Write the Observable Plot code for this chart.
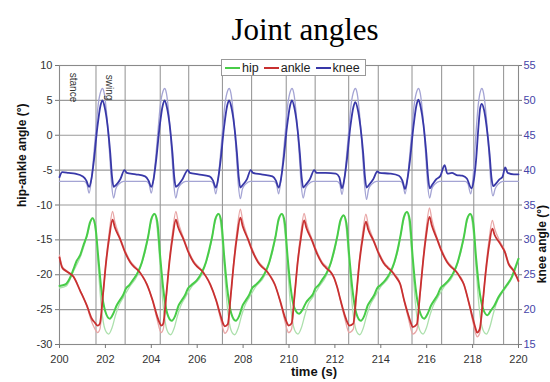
<!DOCTYPE html>
<html>
<head>
<meta charset="utf-8">
<script src="https://cdn.jsdelivr.net/npm/d3@7"></script>
<script src="https://cdn.jsdelivr.net/npm/@observablehq/plot@0.6"></script>
<style>
  html, body { margin: 0; padding: 0; background: #fff; }
  #wrap { position: relative; width: 550px; height: 382px; overflow: hidden; }
  #title { box-sizing: border-box; height: 50px; padding-top: 15px; padding-left: 60px; text-align: center;
           font-family: "Liberation Serif", "Times New Roman", serif; font-size: 31px; line-height: 30px; color: #000; }
  #legend { position: absolute; left: 221px; top: 59px; width: 145px; height: 17px; box-sizing: border-box;
            background: #fff; border: 1px solid #999; font-family: "Liberation Sans", Arial, sans-serif;
            font-size: 12.5px; color: #222; display: flex; align-items: center; padding-left: 3px; }
  #legend .sw { display: inline-block; width: 15px; height: 2px; margin-right: 2px; }
  #legend .it { display: flex; align-items: center; margin-right: 5px; }
</style>
</head>
<body>
<div id="wrap">
  <div id="title">Joint angles</div>
  <div id="chart"></div>
  <div id="legend"></div>
</div>
<script>
// ---- data (time s, angle deg) ----
const xTicks = [200, 202, 204, 206, 208, 210, 212, 214, 216, 218, 220];
const yTicks = [-30, -25, -20, -15, -10, -5, 0, 5, 10];
const kneeOffset = 45; // knee axis = hip-ankle axis + 45
// gait events (toe-off / heel-strike) drawn as vertical grid lines
const events = [201.59, 202.86, 204.39, 205.63, 207.10, 208.37, 209.88, 211.14, 212.60, 213.89, 215.36, 216.65, 218.05, 219.35];
const phaseLabels = [{t: 200.77, label: "stance"}, {t: 202.34, label: "swing"}];
const seriesNames = ["hip", "ankle", "knee"];
const seriesColors = ["#48cc48", "#c83030", "#3838a8"];
const seriesLight = ["#ace0ac", "#e8a6a6", "#a4a4d4"];

const kneeMeasured = [[200.00,39.0],[200.12,39.7],[200.40,39.6],[200.68,39.5],[201.02,39.1],[201.17,38.5],
[201.29,37.6],[201.39,38.7],[201.50,41.4],[201.65,46.15],[201.79,49.3],[201.87,50.0],[201.97,49.0],[202.09,46.5],[202.21,42.5],[202.29,39.0],[202.36,37.6],[202.47,37.9],[202.65,38.7],[202.83,40.0],[202.93,39.6],[203.32,39.4],
[203.73,39.1],[203.88,38.5],[204.00,37.6],[204.10,38.7],[204.21,41.4],[204.36,46.15],[204.50,49.3],[204.58,50.0],[204.68,49.0],[204.80,46.5],[204.92,42.5],[205.00,39.0],[205.07,37.6],[205.18,37.9],[205.36,38.7],[205.59,40.0],[205.68,39.6],[206.05,39.4],
[206.54,39.1],[206.69,38.5],[206.81,37.5],[206.91,38.7],[207.02,41.4],[207.17,46.15],[207.31,49.3],[207.39,50.0],[207.49,49.0],[207.61,46.5],[207.73,42.5],[207.81,39.0],[207.88,37.5],[207.99,37.9],[208.17,38.7],[208.33,40.0],[208.43,39.6],[208.80,39.4],
[209.28,39.1],[209.43,38.5],[209.55,37.5],[209.65,38.7],[209.76,41.4],[209.91,46.15],[210.05,49.3],[210.13,50.0],[210.23,49.0],[210.35,46.5],[210.47,42.5],[210.55,39.0],[210.62,37.5],[210.73,37.9],[210.91,38.7],[211.10,40.0],[211.20,39.6],[211.60,39.6],
[212.04,39.5],[212.19,39.0],[212.31,37.4],[212.41,38.7],[212.52,41.4],[212.67,46.15],[212.81,49.1],[212.89,49.75],[212.99,48.8],[213.11,46.3],[213.23,42.5],[213.31,39.0],[213.38,37.5],[213.49,37.9],[213.67,38.7],[213.85,39.8],[213.95,39.6],[214.40,39.5],
[214.79,39.2],[214.94,38.5],[215.06,37.3],[215.16,38.7],[215.27,41.4],[215.42,46.15],[215.56,49.4],[215.64,50.1],[215.74,49.0],[215.86,46.5],[215.98,42.5],[216.06,39.0],[216.13,37.4],[216.24,37.9],[216.42,38.7],[216.60,39.2],[216.78,40.7],[216.90,39.5],[217.10,39.6],[217.30,39.3],[217.55,39.2],[217.75,38.8],
[217.95,37.4],[218.06,38.7],[218.15,41.4],[218.25,46.0],[218.33,48.9],[218.40,49.5],[218.50,48.6],[218.62,46.0],[218.74,42.3],[218.82,39.0],[218.90,37.7],[219.00,38.0],[219.18,38.7],[219.30,39.0],[219.42,40.4],[219.53,39.6],[219.80,39.4],[220.00,39.4]];

const kneeModel = [[200.00,38.4],
[201.07,38.4],[201.19,38.0],[201.29,36.7],[201.40,39.0],[201.54,44.0],[201.69,49.5],[201.80,51.3],[201.87,51.7],[201.95,51.0],[202.07,47.5],[202.19,42.0],[202.27,38.0],[202.36,36.0],[202.45,37.3],[202.59,38.0],[202.79,38.4],
[203.78,38.4],[203.90,38.0],[204.00,36.7],[204.11,39.0],[204.25,44.0],[204.40,49.5],[204.51,51.3],[204.58,51.7],[204.66,51.0],[204.78,47.5],[204.90,42.0],[204.98,38.0],[205.07,36.0],[205.16,37.3],[205.30,38.0],[205.50,38.4],
[206.59,38.4],[206.71,38.0],[206.81,36.6],[206.92,39.0],[207.06,44.0],[207.21,49.5],[207.32,51.3],[207.39,51.7],[207.47,51.0],[207.59,47.5],[207.71,42.0],[207.79,38.0],[207.88,35.9],[207.97,37.3],[208.11,38.0],[208.31,38.4],
[209.33,38.4],[209.45,38.0],[209.55,36.6],[209.66,39.0],[209.80,44.0],[209.95,49.5],[210.06,51.3],[210.13,51.7],[210.21,51.0],[210.33,47.5],[210.45,42.0],[210.53,38.0],[210.62,36.0],[210.71,37.3],[210.85,38.0],[211.05,38.4],
[212.09,38.4],[212.21,38.0],[212.31,36.5],[212.42,39.0],[212.56,44.0],[212.71,49.5],[212.82,51.3],[212.89,51.7],[212.97,51.0],[213.09,47.5],[213.21,42.0],[213.29,38.0],[213.38,35.8],[213.47,37.3],[213.61,38.0],[213.81,38.4],
[214.84,38.4],[214.96,38.0],[215.06,36.6],[215.17,39.0],[215.31,44.0],[215.46,49.5],[215.57,51.3],[215.64,51.7],[215.72,51.0],[215.84,47.5],[215.96,42.0],[216.04,38.0],[216.13,36.0],[216.22,37.3],[216.36,38.0],[216.56,38.4],
[217.68,38.4],[217.80,38.0],[217.92,36.6],[218.02,39.0],[218.12,44.0],[218.25,49.5],[218.34,51.3],[218.40,51.7],[218.48,51.0],[218.60,47.5],[218.72,42.0],[218.80,38.0],[218.89,36.3],[218.98,37.3],[219.12,38.0],[219.32,38.4],[220.00,38.4]];

const hipMeasured = [[200.00,-21.6],[200.25,-21.4],[200.45,-20.5],[200.61,-19.2],[200.75,-18.0],[200.90,-17.2],[201.04,-15.8],[201.19,-14.4],[201.33,-12.5],[201.44,-11.9],
[201.56,-13.0],[201.69,-17.5],[201.82,-22.0],[201.99,-25.2],[202.19,-26.3],[202.34,-25.6],[202.49,-24.4],[202.64,-23.6],[202.79,-22.8],[202.89,-22.0],[203.04,-21.5],[203.19,-20.8],[203.39,-19.8],[203.59,-18.2],[203.74,-16.3],[203.87,-14.4],[204.00,-12.0],[204.14,-11.3],
[204.26,-12.4],[204.39,-17.5],[204.52,-22.0],[204.69,-25.5],[204.89,-26.6],[205.04,-25.9],[205.19,-24.4],[205.34,-23.6],[205.49,-22.8],[205.59,-22.0],[205.74,-21.5],[205.98,-20.8],[206.18,-19.8],[206.38,-18.2],[206.53,-16.3],[206.66,-14.4],[206.79,-12.0],[206.93,-11.3],
[207.05,-12.4],[207.18,-17.5],[207.31,-22.0],[207.48,-25.5],[207.68,-26.6],[207.83,-25.9],[207.98,-24.4],[208.13,-23.6],[208.28,-22.8],[208.38,-22.0],[208.53,-21.5],[208.74,-20.8],[208.94,-19.8],[209.14,-18.2],[209.29,-16.3],[209.42,-14.4],[209.55,-12.0],[209.69,-11.3],
[209.81,-12.4],[209.94,-17.5],[210.07,-21.8],[210.24,-24.8],[210.44,-25.6],[210.59,-25.0],[210.74,-24.0],[210.89,-23.4],[211.04,-22.8],[211.14,-22.0],[211.29,-21.5],[211.43,-20.8],[211.63,-19.8],[211.83,-18.2],[211.98,-16.3],[212.11,-14.4],[212.24,-12.2],[212.38,-11.5],
[212.50,-12.6],[212.63,-17.5],[212.76,-22.0],[212.93,-25.5],[213.13,-26.6],[213.28,-25.9],[213.43,-24.4],[213.58,-23.6],[213.73,-22.8],[213.83,-22.0],[213.98,-21.5],[214.19,-20.8],[214.39,-19.8],[214.59,-18.2],[214.74,-16.3],[214.87,-14.2],[215.00,-11.8],[215.14,-11.0],
[215.26,-12.1],[215.39,-17.5],[215.52,-22.0],[215.69,-25.2],[215.89,-26.3],[216.04,-25.6],[216.19,-24.4],[216.34,-23.6],[216.49,-22.8],[216.59,-22.0],[216.74,-21.5],[216.95,-20.8],[217.15,-19.8],[217.35,-18.2],[217.50,-16.3],[217.63,-14.4],[217.76,-12.0],[217.90,-11.3],
[218.02,-12.4],[218.15,-17.5],[218.28,-21.8],[218.45,-24.8],[218.65,-25.8],[218.80,-25.1],[218.95,-24.4],[219.13,-23.2],[219.42,-21.8],[219.71,-20.3],[219.88,-18.8],[220.00,-17.7]];

const hipModel = [[200.00,-21.9],[200.30,-21.6],[200.61,-19.5],[200.90,-17.5],[201.19,-14.6],[201.44,-11.8],
[201.56,-13.5],[201.69,-19.0],[201.82,-24.5],[201.99,-27.9],[202.14,-28.5],[202.29,-27.6],[202.44,-25.8],[202.59,-24.4],[202.79,-23.2],[203.04,-21.8],[203.39,-20.1],[203.74,-16.6],[204.00,-12.3],[204.14,-11.2],
[204.26,-13.5],[204.39,-19.0],[204.52,-24.5],[204.69,-28.0],[204.84,-28.6],[204.99,-27.7],[205.14,-25.9],[205.29,-24.4],[205.49,-23.2],[205.74,-21.8],[206.18,-20.1],[206.53,-16.6],[206.79,-12.3],[206.93,-11.2],
[207.05,-13.5],[207.18,-19.0],[207.31,-24.5],[207.48,-28.0],[207.63,-28.6],[207.78,-27.7],[207.93,-25.9],[208.08,-24.4],[208.28,-23.2],[208.53,-21.8],[208.94,-20.1],[209.29,-16.6],[209.55,-12.3],[209.69,-11.2],
[209.81,-13.5],[209.94,-19.0],[210.07,-24.5],[210.24,-27.9],[210.39,-28.5],[210.54,-27.6],[210.69,-25.8],[210.84,-24.2],[211.04,-23.2],[211.29,-21.8],[211.63,-20.1],[211.98,-16.6],[212.24,-12.5],[212.38,-11.4],
[212.50,-13.5],[212.63,-19.0],[212.76,-24.5],[212.93,-28.0],[213.08,-28.6],[213.23,-27.7],[213.38,-25.9],[213.53,-24.4],[213.73,-23.2],[213.98,-21.8],[214.39,-20.1],[214.74,-16.6],[215.00,-12.1],[215.14,-10.9],
[215.26,-13.3],[215.39,-19.0],[215.52,-24.5],[215.69,-27.9],[215.84,-28.5],[215.99,-27.6],[216.14,-25.8],[216.29,-24.4],[216.49,-23.2],[216.74,-21.8],[217.15,-20.1],[217.50,-16.6],[217.76,-12.3],[217.90,-11.2],
[218.02,-13.5],[218.15,-19.0],[218.28,-24.5],[218.45,-27.9],[218.60,-28.5],[218.75,-27.5],[218.90,-25.6],[219.05,-24.0],[219.25,-22.8],[219.42,-22.0],[219.71,-20.5],[220.00,-17.9]];

const ankleMeasured = [[200.00,-17.5],[200.12,-19.0],[200.30,-19.5],[200.61,-20.3],[200.90,-22.3],[201.19,-24.4],[201.41,-26.3],[201.55,-26.9],[201.66,-27.3],
[201.76,-27.0],[201.89,-23.0],[202.03,-18.2],[202.17,-14.6],[202.31,-12.1],[202.41,-13.2],[202.64,-14.9],[202.86,-16.8],[203.08,-18.2],[203.26,-18.9],[203.46,-19.5],[203.61,-20.2],[203.81,-21.4],[204.06,-23.7],[204.26,-26.0],[204.36,-26.9],[204.43,-27.3],
[204.52,-27.0],[204.65,-23.0],[204.79,-18.2],[204.93,-14.6],[205.07,-12.1],[205.17,-13.2],[205.40,-14.9],[205.62,-16.8],[205.84,-18.2],[206.02,-18.9],[206.22,-19.5],[206.37,-20.2],[206.57,-21.4],[206.83,-23.7],[207.03,-26.0],[207.13,-27.0],[207.20,-27.4],
[207.33,-27.1],[207.46,-23.0],[207.60,-18.2],[207.74,-14.4],[207.88,-11.8],[207.98,-13.0],[208.21,-14.9],[208.43,-16.8],[208.65,-18.2],[208.83,-18.9],[209.03,-19.5],[209.18,-20.2],[209.38,-21.4],[209.61,-23.7],[209.81,-26.0],[209.91,-26.9],[209.98,-27.3],
[210.11,-27.0],[210.24,-23.0],[210.38,-18.2],[210.52,-14.7],[210.66,-12.2],[210.76,-13.3],[210.99,-15.0],[211.21,-16.9],[211.43,-18.3],[211.61,-19.0],[211.81,-19.6],[211.96,-20.4],[212.10,-21.8],[212.25,-23.7],[212.45,-26.0],[212.55,-26.9],[212.62,-27.3],
[212.80,-27.0],[212.93,-23.0],[213.07,-18.2],[213.21,-14.8],[213.35,-12.4],[213.45,-13.5],[213.68,-15.1],[213.90,-16.9],[214.12,-18.3],[214.30,-19.0],[214.50,-19.6],[214.65,-20.3],[214.85,-21.4],[215.02,-23.7],[215.22,-26.0],[215.32,-27.0],[215.39,-27.5],
[215.57,-27.1],[215.70,-23.0],[215.84,-18.2],[215.98,-14.3],[216.12,-11.7],[216.22,-12.9],[216.45,-14.9],[216.67,-16.8],[216.89,-18.2],[217.07,-18.9],[217.27,-19.5],[217.42,-20.2],[217.62,-21.4],[217.83,-23.9],[218.03,-26.5],[218.13,-27.7],[218.20,-28.3],
[218.31,-27.8],[218.44,-24.0],[218.58,-19.4],[218.72,-15.8],[218.86,-13.4],[218.96,-14.3],[219.19,-15.5],[219.41,-16.8],[219.56,-18.4],[219.78,-19.4],[220.00,-20.9]];

const ankleModel = [[200.00,-17.2],[200.12,-18.8],[200.30,-19.4],[200.61,-20.2],[200.90,-22.2],[201.19,-24.5],[201.41,-26.8],[201.55,-27.8],[201.66,-28.3],
[201.76,-27.8],[201.89,-23.4],[202.03,-17.9],[202.17,-13.8],[202.31,-10.9],[202.41,-12.4],[202.64,-14.7],[203.08,-18.0],[203.46,-19.4],[203.81,-21.3],[204.06,-23.8],[204.26,-26.5],[204.36,-27.8],[204.43,-28.3],
[204.52,-27.8],[204.65,-23.4],[204.79,-17.9],[204.93,-13.8],[205.07,-10.9],[205.17,-12.4],[205.40,-14.7],[205.84,-18.0],[206.22,-19.4],[206.57,-21.3],[206.83,-23.8],[207.03,-26.5],[207.13,-27.8],[207.20,-28.4],
[207.33,-27.9],[207.46,-23.4],[207.60,-17.9],[207.74,-13.5],[207.88,-10.6],[207.98,-12.2],[208.21,-14.7],[208.65,-18.0],[209.03,-19.4],[209.38,-21.3],[209.61,-23.8],[209.81,-26.5],[209.91,-27.8],[209.98,-28.3],
[210.11,-27.8],[210.24,-23.4],[210.38,-17.9],[210.52,-13.9],[210.66,-11.2],[210.76,-12.6],[210.99,-14.8],[211.43,-18.1],[211.81,-19.5],[212.10,-21.7],[212.25,-23.8],[212.45,-26.5],[212.55,-27.8],[212.62,-28.3],
[212.80,-27.8],[212.93,-23.4],[213.07,-17.9],[213.21,-14.0],[213.35,-11.3],[213.45,-12.8],[213.68,-14.9],[214.12,-18.1],[214.50,-19.5],[214.85,-21.3],[215.02,-23.8],[215.22,-26.5],[215.32,-27.9],[215.39,-28.5],
[215.57,-27.9],[215.70,-23.4],[215.84,-17.9],[215.98,-13.4],[216.12,-10.4],[216.22,-12.0],[216.45,-14.7],[216.89,-18.0],[217.27,-19.4],[217.62,-21.3],[217.83,-24.0],[218.03,-27.0],[218.13,-28.4],[218.20,-28.9],
[218.31,-28.4],[218.44,-24.4],[218.58,-19.0],[218.72,-14.9],[218.86,-12.2],[218.96,-13.4],[219.19,-15.2],[219.41,-16.6],[219.56,-18.2],[219.78,-19.3],[220.00,-20.8]];

// ---- chart ----
const gridColor = "#9a9a9a";
const fmt = d => String(d);
const lineOpts = (data, color, w, isKnee) => Plot.line(data, {
  x: d => d[0],
  y: isKnee ? d => d[1] - kneeOffset : d => d[1],
  stroke: color, strokeWidth: w, curve: "monotone-x"
});

const chart = Plot.plot({
  width: 550, height: 332,
  marginTop: 15, marginBottom: 38, marginLeft: 59, marginRight: 32,
  style: {fontFamily: "'Liberation Sans', Arial, sans-serif", fontSize: "11px", color: "#333", background: "#fff"},
  x: {domain: [200, 220]},
  y: {domain: [-30, 10]},
  marks: [
    Plot.ruleY(yTicks, {stroke: gridColor, strokeWidth: 1.1}),
    Plot.ruleX(events, {stroke: gridColor, strokeWidth: 1.1}),
    Plot.frame({stroke: "#8a8a8a", strokeWidth: 1.1}),
    lineOpts(hipModel, seriesLight[0], 1.3, false),
    lineOpts(ankleModel, seriesLight[1], 1.3, false),
    lineOpts(kneeModel, seriesLight[2], 1.3, true),
    lineOpts(hipMeasured, seriesColors[0], 2, false),
    lineOpts(ankleMeasured, seriesColors[1], 1.8, false),
    lineOpts(kneeMeasured, seriesColors[2], 1.8, true),
    Plot.axisX({ticks: xTicks, tickFormat: fmt, tickSize: 4, tickPadding: 7, label: null, stroke: "#777", fill: "#333"}),
    Plot.axisY({ticks: yTicks, tickFormat: fmt, tickSize: 4, tickPadding: 3, label: null, stroke: "#777", fill: "#333"}),
    Plot.axisY({anchor: "right", ticks: yTicks, tickFormat: d => String(d + kneeOffset), tickSize: 3, tickPadding: 2, label: null, stroke: "#777", fill: "#4545a8"}),
    Plot.text(phaseLabels, {x: "t", text: "label", frameAnchor: "top", dy: 22, rotate: 90, fontSize: 10, fill: "#333"}),
    Plot.text(["hip-ankle angle (°)"], {frameAnchor: "left", dx: -37, dy: 2, rotate: -90, fontWeight: "bold", fontSize: 12, fill: "#111"}),
    Plot.text(["knee angle (°)"], {frameAnchor: "right", dx: 24, rotate: -90, fontWeight: "bold", fontSize: 12, fill: "#111"}),
    Plot.text(["time (s)"], {frameAnchor: "bottom", dx: 25, dy: 31, fontWeight: "bold", fontSize: 13, fill: "#111"})
  ]
});
document.getElementById("chart").appendChild(chart);

// legend
const legend = document.getElementById("legend");
seriesNames.forEach((name, i) => {
  const it = document.createElement("span");
  it.className = "it";
  const sw = document.createElement("span");
  sw.className = "sw";
  sw.style.background = seriesColors[i];
  it.appendChild(sw);
  it.appendChild(document.createTextNode(name));
  legend.appendChild(it);
});
</script>
</body>
</html>
